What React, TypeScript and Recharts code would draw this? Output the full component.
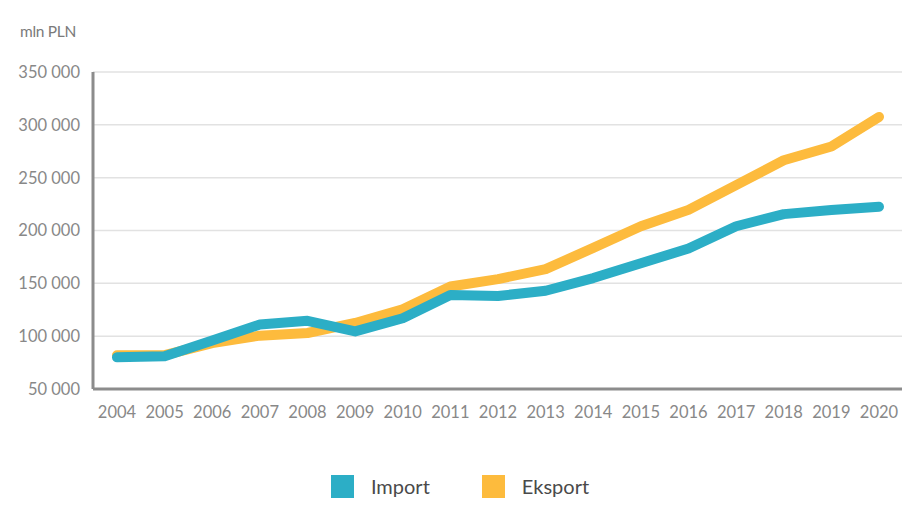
import React from "react";
import { LineChart, Line, XAxis, YAxis, CartesianGrid } from "recharts";

const years = ["2004", "2005", "2006", "2007", "2008", "2009", "2010", "2011", "2012", "2013", "2014", "2015", "2016", "2017", "2018", "2019", "2020"];
const importValues = [80000, 81000, 96000, 111000, 114500, 104500, 117000, 139000, 138000, 143000, 155000, 169000, 183000, 204000, 215500, 219500, 222500];
const eksportValues = [82000, 82000, 93500, 100500, 103000, 112500, 125500, 147000, 154000, 163500, 183500, 204000, 219500, 243000, 266500, 279500, 307500];
const yTicks = [50000, 100000, 150000, 200000, 250000, 300000, 350000];

const data = years.map((year, i) => ({ year, import: importValues[i], eksport: eksportValues[i] }));

const IMPORT_COLOR = "#2caec6";
const EKSPORT_COLOR = "#fdbb3d";
const FONT = "Lato, 'Noto Sans', sans-serif";

const legendItems = [
  { label: "Import", color: IMPORT_COLOR },
  { label: "Eksport", color: EKSPORT_COLOR },
];

const fmt = (v: number) => v.toLocaleString("en-US").replace(/,/g, " ");

export default function App() {
  return (
    <div style={{ position: "absolute", left: 0, top: 0, width: 920, height: 512, background: "#fff" }}>
      <div style={{ position: "absolute", left: 20, top: 22, fontFamily: FONT, fontSize: 15.5, color: "#7a7a7a", letterSpacing: -0.3 }}>
        mln PLN
      </div>
      <LineChart width={920} height={512} data={data} margin={{ top: 72, right: 18, left: 0, bottom: 93 }}>
        <CartesianGrid vertical={false} stroke="#e2e2e2" strokeWidth={1.5} />
        <XAxis
          dataKey="year"
          height={30}
          interval={0}
          padding={{ left: 24, right: 23 }}
          tickLine={false}
          tickSize={0}
          tickMargin={17}
          axisLine={{ stroke: "#8c8c8c", strokeWidth: 3 }}
          tick={{ fill: "#888888", fontSize: 16.5, fontFamily: FONT }}
        />
        <YAxis
          width={93}
          domain={[50000, 350000]}
          ticks={yTicks}
          tickFormatter={fmt}
          tickLine={false}
          tickSize={0}
          tickMargin={13}
          axisLine={{ stroke: "#8c8c8c", strokeWidth: 3 }}
          tick={{ fill: "#888888", fontSize: 16.5, fontFamily: FONT }}
        />
        <Line
          type="linear"
          dataKey="eksport"
          name="Eksport"
          stroke={EKSPORT_COLOR}
          strokeWidth={10}
          strokeLinecap="round"
          strokeLinejoin="round"
          dot={false}
          isAnimationActive={false}
        />
        <Line
          type="linear"
          dataKey="import"
          name="Import"
          stroke={IMPORT_COLOR}
          strokeWidth={10}
          strokeLinecap="round"
          strokeLinejoin="round"
          dot={false}
          isAnimationActive={false}
        />
      </LineChart>
      <div
        style={{
          position: "absolute",
          top: 475,
          left: 0,
          width: 920,
          display: "flex",
          justifyContent: "center",
          alignItems: "center",
          fontFamily: FONT,
        }}
      >
        {legendItems.map((item, i) => (
          <div key={item.label} style={{ display: "flex", alignItems: "center", marginLeft: i === 0 ? 0 : 52 }}>
            <span style={{ width: 23, height: 23, background: item.color, display: "inline-block", marginRight: 17 }} />
            <span style={{ fontSize: 20, color: "#4a4a4a", lineHeight: "23px" }}>{item.label}</span>
          </div>
        ))}
      </div>
    </div>
  );
}
